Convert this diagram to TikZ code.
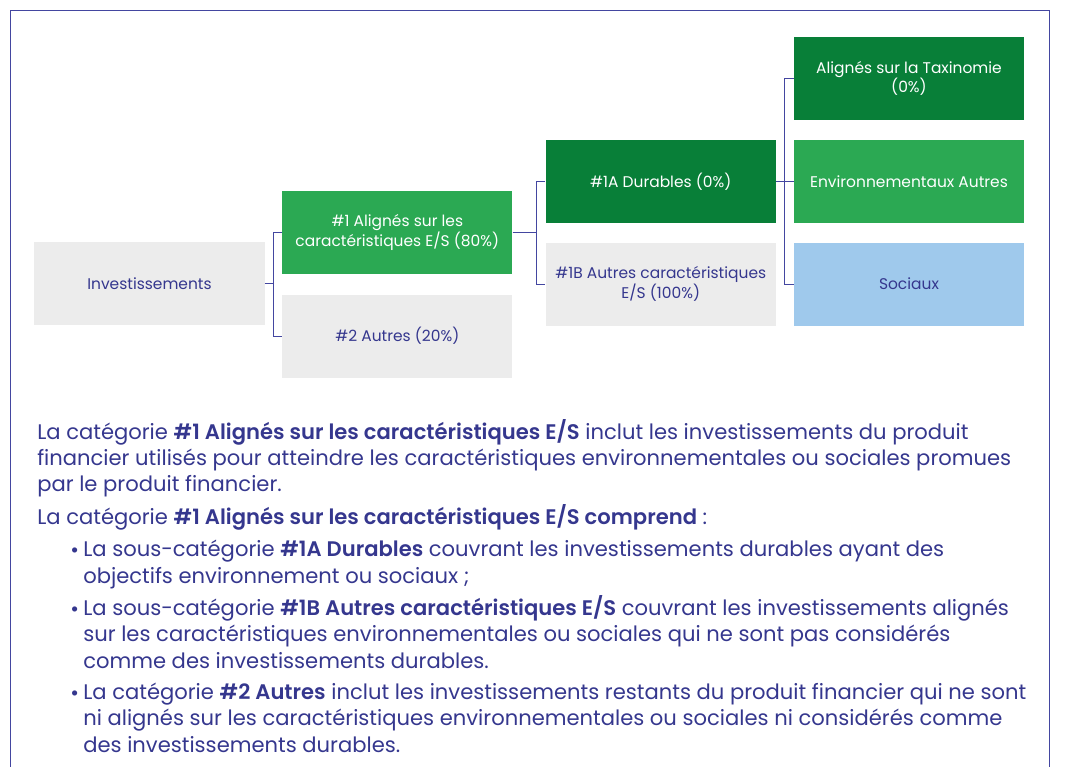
\documentclass[tikz,border=0pt]{standalone}
\usepackage{fontspec}
\setmainfont{Poppins}[BoldFont={Poppins SemiBold}]
\usetikzlibrary{positioning}

\definecolor{navy}{HTML}{35378E}
\definecolor{linenavy}{HTML}{4346A0}
\definecolor{darkgreen}{HTML}{087F38}
\definecolor{midgreen}{HTML}{2BA953}
\definecolor{boxgrey}{HTML}{ECECEC}
\definecolor{boxblue}{HTML}{9FC9EC}

\tikzset{
  box/.style={minimum width=5.75cm, minimum height=2.075cm, inner sep=2pt,
    align=center, font=\fontsize{11}{14}\selectfont},
  greybox/.style={box, fill=boxgrey, text=navy},
  darkbox/.style={box, fill=darkgreen, text=white},
  greenbox/.style={box, fill=midgreen, text=white},
  bluebox/.style={box, fill=boxblue, text=navy},
  link/.style={draw=linenavy, line width=0.6pt},
  para/.style={anchor=base west, inner sep=0pt, align=left, text=navy,
    font=\fontsize{15}{18.5}\selectfont},
}

\begin{document}
\begin{tikzpicture}[x=0.025cm,y=-0.025cm]
    \useasboundingbox (0,0) rectangle (1067,767);
    \draw[linenavy, line width=0.7pt] (10,767) -- (10,10) -- (1049,10) -- (1049,767);

    \node[greybox] (1) at (149.5,283.5) {Investissements};
    \node[greenbox, right=0.43cm of 1, yshift=1.275cm] (2) {\#1 Alignés sur les\\caractéristiques E/S (80\%)};
    \node[greybox, below=0.5cm of 2] (3) {\#2 Autres (20\%)};
    \node[darkbox, right=0.82cm of 2, yshift=1.275cm] (4) {\#1A Durables (0\%)};
    \node[greybox, below=0.475cm of 4] (5) {\#1B Autres caractéristiques\\E/S (100\%)};
    \node[darkbox, right=0.44cm of 4, yshift=2.575cm] (6) {Alignés sur la Taxinomie\\(0\%)};
    \node[greenbox, right=0.44cm of 4] (7) {Environnementaux Autres};
    \node[bluebox, right=0.44cm of 5] (8) {Sociaux};

    %% investissements
    \draw[link] (1.east) -| ([xshift=-0.225cm]2.west) -- (2.west);
    \draw[link] (1.east) -| ([xshift=-0.225cm]3.west) -- (3.west);
    %% #1
    \draw[link] (2.east) -| ([xshift=-0.225cm]4.west) -- (4.west);
    \draw[link] (2.east) -| ([xshift=-0.225cm]5.west) -- (5.west);
    %% #1A
    \draw[link] (4.east) -| ([xshift=-0.225cm]6.west) -- (6.west);
    \draw[link] (4.east) -- (7.west);
    \draw[link] (4.east) -| ([xshift=-0.225cm]8.west) -- (8.west);

    %% texte (base = derniere ligne)
    \node[para] (p1) at (37,492) {La catégorie \textbf{\#1 Alignés sur les caractéristiques E/S} inclut les investissements du produit\\financier utilisés pour atteindre les caractéristiques environnementales ou sociales promues\\par le produit financier.};
    \node[para] (p2) at (37,524) {La catégorie \textbf{\#1 Alignés sur les caractéristiques E/S comprend} :};
    \node[para] (b1) at (83,583) {La sous-catégorie \textbf{\#1A Durables} couvrant les investissements durables ayant des\\objectifs environnement ou sociaux ;};
    \node[para] (b2) at (83,668) {La sous-catégorie \textbf{\#1B Autres caractéristiques E/S} couvrant les investissements alignés\\sur les caractéristiques environnementales ou sociales qui ne sont pas considérés\\comme des investissements durables.};
    \node[para] (b3) at (83,752) {La catégorie \textbf{\#2 Autres} inclut les investissements restants du produit financier qui ne sont\\ni alignés sur les caractéristiques environnementales ou sociales ni considérés comme\\des investissements durables.};
    \node[para] (d1) at (70,557) {•};
    \node[para] (d2) at (70,616) {•};
    \node[para] (d3) at (70,700) {•};
\end{tikzpicture}
\end{document}
